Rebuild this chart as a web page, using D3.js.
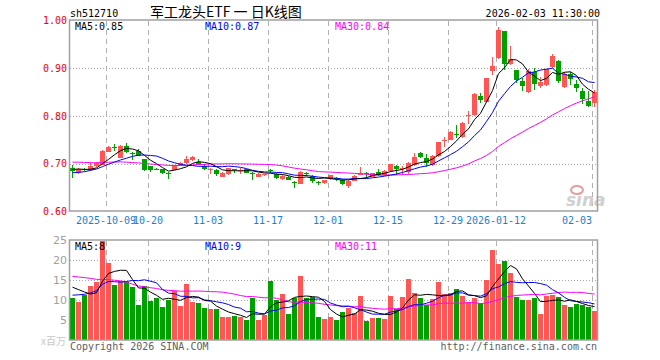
<!DOCTYPE html>
<html>
<head>
<meta charset="utf-8">
<script src="https://cdn.jsdelivr.net/npm/d3@7"></script>
<style>
body { margin: 0; background: #fff; }
svg { display: block; font-family: "DejaVu Sans Mono", monospace; }
</style>
</head>
<body>
<svg width="660" height="360"></svg>
<script>
// daily candles 2025-09-23 .. 2026-02-03
var opens  = [0.692,0.681,0.690,0.686,0.696,0.698,0.725,0.735,0.713,0.738,0.723,0.727,0.709,0.695,0.690,0.688,0.681,0.687,0.697,0.701,0.707,0.704,
              0.696,0.688,0.687,0.673,0.678,0.689,0.684,0.689,0.681,0.673,0.676,0.687,0.678,0.668,0.673,0.662,0.658,0.681,0.674,0.662,0.659,0.668,
              0.671,0.666,0.654,0.664,0.677,0.680,0.673,0.682,0.676,0.685,0.696,0.688,0.682,0.697,0.722,0.713,0.697,0.716,0.748,0.750,0.762,0.755,
              0.800,0.802,0.842,0.830,0.894,0.922,0.978,0.908,0.896,0.874,0.851,0.893,0.862,0.865,0.902,0.915,0.861,0.889,0.867,0.853,0.832,0.828];
var closes = [0.684,0.690,0.686,0.695,0.702,0.727,0.736,0.734,0.738,0.725,0.721,0.717,0.687,0.687,0.689,0.680,0.680,0.697,0.702,0.709,0.715,0.699,
              0.689,0.689,0.678,0.681,0.691,0.688,0.687,0.681,0.679,0.678,0.678,0.685,0.671,0.675,0.666,0.661,0.682,0.678,0.664,0.661,0.666,0.676,
              0.669,0.657,0.664,0.675,0.680,0.678,0.680,0.676,0.685,0.699,0.690,0.691,0.701,0.715,0.715,0.701,0.717,0.745,0.750,0.767,0.760,0.786,
              0.802,0.847,0.833,0.879,0.905,0.980,0.908,0.919,0.875,0.863,0.894,0.867,0.872,0.898,0.925,0.874,0.889,0.877,0.858,0.835,0.821,0.851];
var highs  = [0.697,0.691,0.691,0.703,0.704,0.728,0.737,0.741,0.739,0.744,0.724,0.730,0.710,0.696,0.692,0.689,0.682,0.698,0.703,0.716,0.716,0.709,
              0.699,0.691,0.690,0.682,0.692,0.690,0.691,0.690,0.683,0.680,0.679,0.690,0.680,0.676,0.674,0.663,0.684,0.682,0.676,0.664,0.667,0.677,
              0.673,0.668,0.665,0.676,0.694,0.682,0.681,0.689,0.686,0.700,0.698,0.695,0.703,0.722,0.724,0.720,0.719,0.746,0.755,0.768,0.781,0.787,
              0.811,0.848,0.849,0.880,0.924,0.987,0.979,0.947,0.897,0.879,0.898,0.900,0.882,0.899,0.929,0.917,0.893,0.893,0.875,0.858,0.852,0.855];
var lows   = [0.671,0.678,0.684,0.684,0.694,0.697,0.724,0.726,0.712,0.722,0.708,0.716,0.685,0.682,0.686,0.679,0.668,0.686,0.696,0.700,0.706,0.698,
              0.686,0.678,0.675,0.672,0.677,0.680,0.678,0.680,0.665,0.672,0.675,0.680,0.668,0.667,0.665,0.649,0.657,0.675,0.660,0.656,0.657,0.666,
              0.663,0.655,0.650,0.663,0.676,0.671,0.672,0.675,0.675,0.683,0.676,0.677,0.678,0.696,0.713,0.694,0.696,0.715,0.736,0.749,0.753,0.754,
              0.783,0.801,0.827,0.829,0.886,0.920,0.896,0.907,0.870,0.853,0.849,0.854,0.859,0.863,0.900,0.870,0.859,0.865,0.851,0.826,0.818,0.818];
// volume, millions
var volumes = [10.5,9.5,11.2,13.4,14.5,24.8,19.3,13.75,14.8,14.4,13.3,8.8,13.5,9.8,10.5,8.25,10.1,12.25,8.5,14,9.6,9.3,
               8,7.75,7.75,5.75,5.75,5.9,5.75,5,10.5,5,6.2,14.75,10,11.5,6.5,10.5,16,10.5,10.7,5.75,5.25,5.75,
               5,7,8,6.7,11,4.75,5.5,5.5,5.25,11,7.7,10.75,15.25,11.75,10.5,8.75,10.2,14.5,11.5,11.7,12.75,11,
               9.5,10.5,9.2,15,22.5,19,19.8,16.8,10.75,10.1,10.1,10.5,6.5,11.1,11.3,10.75,8.75,8.3,9,8.8,8.3,7.3];

// sessions before the window, only feed the moving averages
var prevCloses = [0.695,0.700,0.708,0.712,0.705,0.718,0.725,0.730,0.742,0.748,0.735,0.728,0.720,0.715,0.706,0.712,0.700,0.704,0.696,0.692,
                  0.680,0.672,0.668,0.673,0.677,0.685,0.690,0.694,0.687];
var prevVolumes = [14,16,19,22,25,21,18,20,24,28,23,19,17,16,18,15,14,13,12,11,
                   8.5,9.8,10.2,8.7,8.8,12.5,14.2,15.9,12.9];

var tickIdx = [6, 13, 23, 33, 43, 53, 63, 71, 87];
var tickLabels = ["2025-10-09", "10-20", "11-03", "11-17", "12-01", "12-15", "12-29", "2026-01-12", "02-03"];
var priceTicks = [0.6, 0.7, 0.8, 0.9, 1.0];
var volTicks = [5, 10, 15, 20, 25];

var RED = "#ff5555", GREEN = "#00a000";
var n = closes.length;
var svg = d3.select("svg");

function movingAvg(arr, prev, k) {
    var all = prev.concat(arr);
    return arr.map(function(d, i) {
        var end = i + prev.length + 1;
        return d3.mean(all.slice(end - k, end));
    });
}

var x = d3.scaleBand().domain(d3.range(n)).range([69.5, 597.5]).paddingInner(1/6).paddingOuter(1/12);
var xg = d3.scaleLinear().domain([0, n]).range([69.5, 597.5]);
var bw = x.bandwidth();
var cx = function(i) { return Math.floor(x(i)) + 2.5; };

var y = d3.scaleLinear().domain([0.6, 1.0]).range([211.5, 20.5]);
var yv = d3.scaleLinear().domain([0, 25]).range([340, 240]);

// header
svg.append("text").attr("x", 70).attr("y", 17).attr("font-size", 10).text("sh512710");
svg.append("text").attr("x", 150).attr("y", 17).attr("font-size", 14)
    .attr("font-family", "'Noto Sans CJK SC', sans-serif").text("军工龙头ETF 一 日K线图");
svg.append("text").attr("x", 600).attr("y", 17).attr("font-size", 10).attr("text-anchor", "end")
    .text("2026-02-03 11:30:00");

// grid lines
function hgrid(scale, vals) {
    svg.append("g").selectAll("line").data(vals).enter().append("line")
        .attr("x1", 70).attr("x2", 597)
        .attr("y1", function(d) { return Math.round(scale(d)) + 0.5; })
        .attr("y2", function(d) { return Math.round(scale(d)) + 0.5; })
        .attr("stroke", "#a8a8a8").attr("stroke-dasharray", "1,2");
}
hgrid(y, [0.7, 0.8, 0.9]);
hgrid(yv, [5, 10, 15, 20]);

function vgrid(top, bottom) {
    svg.append("g").selectAll("line").data(tickIdx).enter().append("line")
        .attr("x1", function(d) { return Math.round(xg(d)) + 0.5; })
        .attr("x2", function(d) { return Math.round(xg(d)) + 0.5; })
        .attr("y1", top).attr("y2", bottom)
        .attr("stroke", "#b0b0b0").attr("stroke-dasharray", "5,4");
}
vgrid(21, 211);
vgrid(241, 340);

// watermark
svg.append("text").attr("x", 566).attr("y", 206).attr("font-size", 17)
    .attr("font-family", "'DejaVu Sans', sans-serif").attr("font-style", "italic").attr("font-weight", "bold")
    .attr("fill", "#d0d0d0").text("sina");
svg.append("ellipse").attr("cx", 577).attr("cy", 190).attr("rx", 6).attr("ry", 4)
    .attr("fill", "none").attr("stroke", "#e0a0a0").attr("stroke-width", 2);

// candles
var candles = svg.append("g").attr("shape-rendering", "crispEdges");
var color = function(i) { return closes[i] >= opens[i] ? RED : GREEN; };

candles.selectAll("line").data(d3.range(n)).enter().append("line")
    .attr("x1", cx).attr("x2", cx)
    .attr("y1", function(i) { return y(highs[i]); })
    .attr("y2", function(i) { return y(lows[i]); })
    .attr("stroke", color);

candles.selectAll("rect").data(d3.range(n)).enter().append("rect")
    .attr("x", function(i) { return Math.floor(x(i)); })
    .attr("width", bw)
    .attr("y", function(i) { return y(Math.max(opens[i], closes[i])); })
    .attr("height", function(i) { return Math.max(1, Math.abs(y(opens[i]) - y(closes[i]))); })
    .attr("fill", color);

// volume bars
svg.append("g").attr("shape-rendering", "crispEdges")
    .selectAll("rect").data(d3.range(n)).enter().append("rect")
    .attr("x", function(i) { return Math.floor(x(i)); })
    .attr("width", bw)
    .attr("y", function(i) { return yv(volumes[i]); })
    .attr("height", function(i) { return yv(0) - yv(volumes[i]); })
    .attr("fill", color);

// moving averages
var ma5 = movingAvg(closes, prevCloses, 5),
    ma10 = movingAvg(closes, prevCloses, 10),
    ma30 = movingAvg(closes, prevCloses, 30);
var vma5 = movingAvg(volumes, prevVolumes, 5),
    vma10 = movingAvg(volumes, prevVolumes, 10),
    vma30 = movingAvg(volumes, prevVolumes, 30);

function drawLine(vals, scale, col) {
    var line = d3.line().x(function(d, i) { return cx(i); }).y(function(d) { return scale(d); });
    svg.append("path").datum(vals).attr("d", line)
        .attr("fill", "none").attr("stroke", col).attr("stroke-width", 1);
}
drawLine(ma30, y, "#ff00ff");
drawLine(ma10, y, "#0000ff");
drawLine(ma5, y, "#000000");
drawLine(vma30, yv, "#ff00ff");
drawLine(vma10, yv, "#0000ff");
drawLine(vma5, yv, "#000000");

// frames
svg.append("rect").attr("x", 69.5).attr("y", 20).attr("width", 528).attr("height", 191)
    .attr("fill", "none").attr("stroke", "#a0a0a0").attr("stroke-width", 1.5);
svg.append("rect").attr("x", 69.5).attr("y", 240).attr("width", 528).attr("height", 100)
    .attr("fill", "none").attr("stroke", "#a0a0a0").attr("stroke-width", 1.5);

// MA labels
var last = n - 1;
svg.append("text").attr("x", 75).attr("y", 30).attr("font-size", 10).text("MA5:" + ma5[last].toFixed(2));
svg.append("text").attr("x", 205).attr("y", 30).attr("font-size", 10).attr("fill", "#0000ff").text("MA10:" + ma10[last].toFixed(2));
svg.append("text").attr("x", 335).attr("y", 30).attr("font-size", 10).attr("fill", "#ff00ff").text("MA30:" + ma30[last].toFixed(2));
svg.append("text").attr("x", 75).attr("y", 249.5).attr("font-size", 10).text("MA5:" + Math.round(vma5[last]));
svg.append("text").attr("x", 205).attr("y", 249.5).attr("font-size", 10).attr("fill", "#0000ff").text("MA10:" + Math.round(vma10[last]));
svg.append("text").attr("x", 335).attr("y", 249.5).attr("font-size", 10).attr("fill", "#ff00ff").text("MA30:" + Math.round(vma30[last]));

// axes
var priceAxis = svg.append("g").attr("transform", "translate(67,0)")
    .call(d3.axisLeft(y).tickValues(priceTicks).tickSize(0).tickPadding(0).tickFormat(d3.format(".2f")));
priceAxis.select(".domain").remove();
priceAxis.selectAll("text").attr("fill", "#ee0000").attr("font-size", 10)
    .attr("font-family", "'DejaVu Sans Mono', monospace");

var volAxis = svg.append("g").attr("transform", "translate(67,0)")
    .call(d3.axisLeft(yv).tickValues(volTicks).tickSize(0).tickPadding(0));
volAxis.select(".domain").remove();
volAxis.selectAll("text").attr("fill", "#a0a0a0").attr("font-size", 11)
    .attr("font-family", "'DejaVu Sans', sans-serif");

var dateAxis = svg.append("g").attr("transform", "translate(0,211)")
    .call(d3.axisBottom(xg).tickValues(tickIdx).tickSize(0).tickPadding(6)
        .tickFormat(function(d, i) { return tickLabels[i]; }));
dateAxis.select(".domain").remove();
dateAxis.selectAll("text").attr("fill", "#1a7fd0").attr("font-size", 10)
    .attr("font-family", "'DejaVu Sans Mono', monospace");
dateAxis.selectAll("text").filter(function(d) { return d === 87; }).attr("text-anchor", "end");

// footer
svg.append("text").attr("x", 66).attr("y", 345).attr("font-size", 10).attr("text-anchor", "end")
    .attr("fill", "#c8c8c8").attr("font-family", "'Noto Sans CJK SC', sans-serif").text("x百万");
svg.append("text").attr("x", 70).attr("y", 349.5).attr("font-size", 10).attr("fill", "#606060")
    .text("Copyright 2026 SINA.COM");
svg.append("text").attr("x", 597).attr("y", 349.5).attr("font-size", 10).attr("fill", "#606060")
    .attr("text-anchor", "end").text("http://finance.sina.com.cn");
</script>
</body>
</html>
